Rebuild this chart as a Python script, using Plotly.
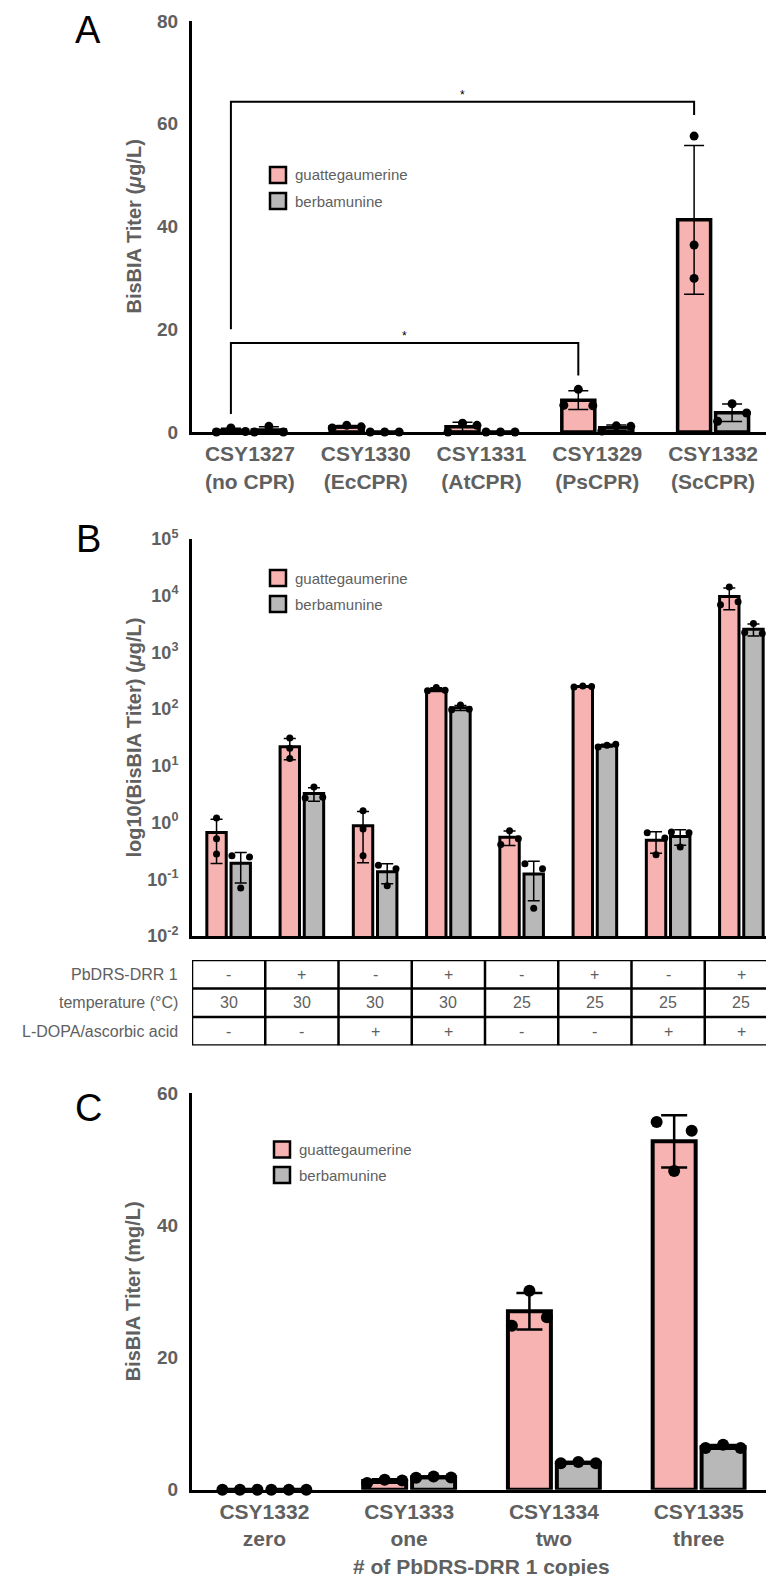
import numpy as np
import plotly.graph_objects as go

W, H = 774, 1576

# ---------------- data ----------------
series_names = ["guattegaumerine", "berbamunine"]

# Panel A (ug/L), replicate values per strain, left-to-right as plotted
a_labels = ["CSY1327<br>(no CPR)", "CSY1330<br>(EcCPR)", "CSY1331<br>(AtCPR)",
            "CSY1329<br>(PsCPR)", "CSY1332<br>(ScCPR)"]
a_guattegaumerine = [[0.0, 0.8, 0.1], [0.8, 1.3, 1.0], [0.0, 1.7, 1.3],
                     [5.2, 8.3, 5.1], [57.6, 36.4, 29.9]]
a_berbamunine = [[0.0, 1.1, 0.0], [0.0, 0.0, 0.0], [0.0, 0.0, 0.0],
                 [0.2, 1.2, 1.1], [2.1, 5.5, 3.7]]
a_yticks = [0, 20, 40, 60, 80]
# significance brackets: (from group, to group, bar height, left foot, right foot)
a_brackets = [(0, 4, 64.3, 20.0, 61.7), (0, 3, 17.3, 3.5, 11.0)]

# Panel B (ug/L, log axis)
b_guattegaumerine = [[1.2, 0.52, 0.28], [31.0, 20.5, 13.5], [1.62, 0.77, 0.26],
                     [210, 240, 215], [0.41, 0.72, 0.52], [245, 255, 250],
                     [0.66, 0.27, 0.535], [6900, 14300, 7800]]
b_berbamunine = [[0.26, 0.07, 0.246], [2.7, 4.25, 2.8], [0.177, 0.077, 0.154],
                 [98, 118, 100], [0.188, 0.031, 0.154], [21.5, 23.0, 24.0],
                 [0.68, 0.37, 0.66], [2250, 3250, 2150]]
b_ytick_vals = [1e-2, 1e-1, 1e0, 1e1, 1e2, 1e3, 1e4, 1e5]
b_ytick_text = ["10<sup>-2</sup>", "10<sup>-1</sup>", "10<sup>0</sup>", "10<sup>1</sup>",
                "10<sup>2</sup>", "10<sup>3</sup>", "10<sup>4</sup>", "10<sup>5</sup>"]
b_row_labels = ["PbDRS-DRR 1", "temperature (°C)", "L-DOPA/ascorbic acid"]
b_pbdrs = ["-", "+", "-", "+", "-", "+", "-", "+"]
b_temperature = ["30", "30", "30", "30", "25", "25", "25", "25"]
b_ldopa = ["-", "-", "+", "+", "-", "-", "+", "+"]

# Panel C (mg/L)
c_labels = ["CSY1332<br>zero", "CSY1333<br>one", "CSY1334<br>two", "CSY1335<br>three"]
c_guattegaumerine = [[0.0, 0.0, 0.0], [1.0, 1.5, 1.4], [24.8, 30.1, 26.1], [55.6, 48.2, 54.3]]
c_berbamunine = [[0.0, 0.0, 0.0], [1.8, 2.0, 1.85], [4.0, 4.2, 4.0], [6.3, 6.8, 6.3]]
c_yticks = [0, 20, 40, 60]

# ---------------- style ----------------
PINK = "#F7B2B2"
GRAY = "#B8B8B8"
TXT = "#606060"
FONT = "Liberation Sans, Arial, Helvetica, sans-serif"


def px2x(p):
    return p / W


def px2y(p):
    return 1 - p / H


panels = {
    "A": dict(xa="x", ya="y", xpx=(184, 763), ypx=(13, 424), rng=(0, 80), log=False,
              w=0.285, gap=0.043, lw=3.5, dot=9, spread=0.125, errw=10, errt=1.5),
    "B": dict(xa="x2", ya="y2", xpx=(184, 770), ypx=(531, 928), rng=(-2, 5), log=True,
              w=0.265, gap=0.065, lw=3, dot=7, spread=0.12, errw=6, errt=1.5),
    "C": dict(xa="x4", ya="y4", xpx=(184, 763), ypx=(1085, 1481.7), rng=(0, 60), log=False,
              w=0.297, gap=0.041, lw=4, dot=12, spread=0.121, errw=13, errt=2.5),
}


def swarm(vals, to_px, thresh):
    """Prism-like column scatter: points closer than a dot diameter share a row."""
    pxv = [to_px(v) for v in vals]
    order = sorted(range(len(vals)), key=lambda k: pxv[k])
    clusters, cur = [], [order[0]]
    for k in order[1:]:
        if pxv[k] - pxv[cur[-1]] < thresh:
            cur.append(k)
        else:
            clusters.append(cur)
            cur = [k]
    clusters.append(cur)
    offs = [0.0] * len(vals)
    for cl in clusters:
        cl = sorted(cl)
        m = len(cl)
        pos = [-1, 1] if m == 2 else [j - (m - 1) / 2 for j in range(m)]
        for j, k in enumerate(cl):
            offs[k] = pos[j]
    return offs


fig = go.Figure()


def add_panel(cfg, guat, berb):
    n = len(guat)
    xs = np.arange(n)
    ppu = (cfg["ypx"][1] - cfg["ypx"][0]) / (cfg["rng"][1] - cfg["rng"][0])
    to_px = (lambda v: np.log10(v) * ppu) if cfg["log"] else (lambda v: v * ppu)
    w, gap = cfg["w"], cfg["gap"]
    for data, color, offset in [(guat, PINK, -(gap / 2 + w)), (berb, GRAY, gap / 2)]:
        means = [float(np.mean(v)) for v in data]
        sds = [float(np.std(v, ddof=1)) for v in data]
        fig.add_trace(go.Bar(
            x=xs, y=means, width=w, offset=offset,
            marker=dict(color=color, line=dict(color="black", width=cfg["lw"])),
            error_y=dict(type="data", array=sds, visible=True, color="black",
                         thickness=cfg["errt"], width=cfg["errw"]),
            xaxis=cfg["xa"], yaxis=cfg["ya"], showlegend=False, cliponaxis=False,
        ))
        center = offset + w / 2
        dx, dy = [], []
        for i, vals in enumerate(data):
            offs = swarm(vals, to_px, cfg["dot"] * 1.1)
            for v, o in zip(vals, offs):
                dx.append(i + center + o * cfg["spread"])
                dy.append(v)
        fig.add_trace(go.Scatter(
            x=dx, y=dy, mode="markers",
            marker=dict(color="black", size=cfg["dot"], line=dict(width=0)),
            xaxis=cfg["xa"], yaxis=cfg["ya"], showlegend=False, cliponaxis=False,
        ))


add_panel(panels["A"], a_guattegaumerine, a_berbamunine)
add_panel(panels["B"], b_guattegaumerine, b_berbamunine)
add_panel(panels["C"], c_guattegaumerine, c_berbamunine)

# brackets in panel A
cfgA = panels["A"]
pink_center = -(cfgA["gap"] / 2 + cfgA["w"] / 2)
annotations = []
for g0, g1, top, foot0, foot1 in a_brackets:
    x0, x1 = g0 + pink_center, g1 + pink_center
    fig.add_trace(go.Scatter(
        x=[x0, x0, x1, x1], y=[foot0, top, top, foot1], mode="lines",
        line=dict(color="black", width=2), xaxis="x", yaxis="y",
        showlegend=False, cliponaxis=False, hoverinfo="skip",
    ))
    annotations.append(dict(x=(x0 + x1) / 2, y=top, xref="x", yref="y", text="*",
                            showarrow=False, xanchor="center", yanchor="bottom", yshift=-2,
                            font=dict(family=FONT, size=12, color="black")))

# dummy trace for the condition table axes
fig.add_trace(go.Scatter(x=[None], y=[None], xaxis="x3", yaxis="y3", showlegend=False))


def axis_common(size, ticklen=7, weight="bold"):
    return dict(showline=True, linecolor="black", linewidth=3, ticks="outside",
                ticklen=ticklen, tickcolor="rgba(0,0,0,0)", showgrid=False, zeroline=False,
                tickfont=dict(family=FONT, size=size, color=TXT, weight=weight),
                fixedrange=True, automargin=False)


def xdom(cfg):
    return [px2x(cfg["xpx"][0]), px2x(cfg["xpx"][1])]


def ydom(cfg):
    return [px2y(cfg["ypx"][1]), px2y(cfg["ypx"][0])]


cA, cB, cC = panels["A"], panels["B"], panels["C"]
layout = dict(
    width=W, height=H, margin=dict(l=0, r=0, t=0, b=0, autoexpand=False),
    paper_bgcolor="white", plot_bgcolor="white", barmode="overlay",
    showlegend=False, font=dict(family=FONT, color=TXT),
    xaxis=dict(domain=xdom(cA), anchor="y", range=[-0.5, len(a_labels) - 0.5],
               tickmode="array", tickvals=list(range(len(a_labels))), ticktext=a_labels,
               **axis_common(21, ticklen=1)),
    yaxis=dict(domain=ydom(cA), anchor="x", range=list(cA["rng"]),
               tickmode="array", tickvals=a_yticks, **axis_common(19)),
    xaxis2=dict(domain=xdom(cB), anchor="y2", range=[-0.5, len(b_pbdrs) - 0.5],
                showticklabels=False, **axis_common(18)),
    yaxis2=dict(domain=ydom(cB), anchor="x2", type="log", range=list(cB["rng"]),
                tickmode="array", tickvals=b_ytick_vals, ticktext=b_ytick_text,
                **axis_common(18)),
    xaxis3=dict(domain=xdom(cB), anchor="y3", range=[-0.5, len(b_pbdrs) - 0.5],
                visible=False, fixedrange=True, automargin=False),
    yaxis3=dict(domain=[px2y(1037.5), px2y(952)], anchor="x3", range=[3, 0],
                visible=False, fixedrange=True, automargin=False),
    xaxis4=dict(domain=xdom(cC), anchor="y4", range=[-0.5, len(c_labels) - 0.5],
                tickmode="array", tickvals=list(range(len(c_labels))), ticktext=c_labels,
                **axis_common(21, ticklen=1)),
    yaxis4=dict(domain=ydom(cC), anchor="x4", range=list(cC["rng"]),
                tickmode="array", tickvals=c_yticks, **axis_common(19)),
)
fig.update_layout(**layout)

# condition table
shapes = []
ncol = len(b_pbdrs)
shapes.append(dict(type="rect", xref="x3", yref="y3", x0=-0.5, x1=ncol - 0.5, y0=0, y1=3,
                   line=dict(color="black", width=2.5)))
for k in range(ncol - 1):
    shapes.append(dict(type="line", xref="x3", yref="y3", x0=k + 0.5, x1=k + 0.5, y0=0, y1=3,
                       line=dict(color="black", width=2.5)))
for r in (1, 2):
    shapes.append(dict(type="line", xref="x3", yref="y3", x0=-0.5, x1=ncol - 0.5, y0=r, y1=r,
                       line=dict(color="black", width=2.5)))
for r, row in enumerate([b_pbdrs, b_temperature, b_ldopa]):
    annotations.append(dict(x=px2x(172), y=r + 0.5, xref="paper", yref="y3",
                            text=b_row_labels[r], showarrow=False, xanchor="right",
                            yanchor="middle", font=dict(family=FONT, size=16, color=TXT)))
    for i, t in enumerate(row):
        annotations.append(dict(x=i, y=r + 0.5, xref="x3", yref="y3", text=t,
                                showarrow=False, xanchor="center", yanchor="middle",
                                font=dict(family=FONT, size=16, color=TXT)))

# legends (drawn per panel)
legend_pos = {"A": (262, [167, 193]), "B": (262, [570, 596]), "C": (266, [1141.5, 1167])}
for key, (lx, lys) in legend_pos.items():
    for name, color, ly in zip(series_names, [PINK, GRAY], lys):
        shapes.append(dict(type="rect", xref="paper", yref="paper",
                           x0=px2x(lx), x1=px2x(lx + 16), y0=px2y(ly + 8), y1=px2y(ly - 8),
                           fillcolor=color, line=dict(color="black", width=2.5)))
        annotations.append(dict(x=px2x(lx + 23), y=px2y(ly), xref="paper", yref="paper",
                                text=name, showarrow=False, xanchor="left", yanchor="middle",
                                font=dict(family=FONT, size=15, color=TXT)))

# panel letters
for letter, ly in [("A", 22), ("B", 531), ("C", 1100)]:
    annotations.append(dict(x=px2x(80), y=px2y(ly), xref="paper", yref="paper", text=letter,
                            showarrow=False, xanchor="center", yanchor="middle",
                            font=dict(family=FONT, size=38, color="black")))

# axis titles
title_font = dict(family=FONT, size=20, color=TXT, weight="bold")
for text, cfg in [("BisBIA Titer (<i>μ</i>g/L)", cA),
                  ("log10(BisBIA Titer) (<i>μ</i>g/L)", cB),
                  ("BisBIA Titer (mg/L)", cC)]:
    annotations.append(dict(x=px2x(125), y=px2y((cfg["ypx"][0] + cfg["ypx"][1]) / 2),
                            xref="paper", yref="paper", text=text, textangle=-90,
                            showarrow=False, xanchor="center", yanchor="middle",
                            font=title_font))
annotations.append(dict(x=px2x((cC["xpx"][0] + cC["xpx"][1]) / 2), y=px2y(1558),
                        xref="paper", yref="paper", text="# of PbDRS-DRR 1 copies",
                        showarrow=False, xanchor="center", yanchor="middle",
                        font=dict(family=FONT, size=21, color=TXT, weight="bold")))

fig.update_layout(shapes=shapes, annotations=annotations)
fig.write_html("out.html")
